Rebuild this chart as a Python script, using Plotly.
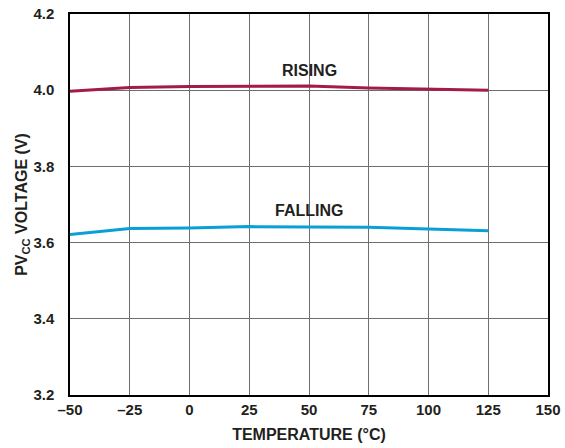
import plotly.graph_objects as go

# Undervoltage lockout thresholds vs. temperature
temperature_c = [-50, -25, 0, 25, 50, 75, 100, 125]
rising_v = [3.997, 4.007, 4.010, 4.010, 4.011, 4.006, 4.003, 4.000]
falling_v = [3.621, 3.637, 3.638, 3.642, 3.641, 3.640, 3.636, 3.631]

x_ticks = [-50, -25, 0, 25, 50, 75, 100, 125, 150]
x_tick_text = ["\u201350", "\u201325", "0", "25", "50", "75", "100", "125", "150"]
y_ticks = [3.2, 3.4, 3.6, 3.8, 4.0, 4.2]
y_tick_text = ["3.2", "3.4", "3.6", "3.8", "4.0", "4.2"]

FONT = "Liberation Sans, Arial, sans-serif"
INK = "#231F20"

fig = go.Figure()
fig.add_trace(go.Scatter(x=temperature_c, y=rising_v, mode="lines",
                         line=dict(color="#A31C45", width=3),
                         showlegend=False))
fig.add_trace(go.Scatter(x=temperature_c, y=falling_v, mode="lines",
                         line=dict(color="#0A9FD6", width=3),
                         showlegend=False))

fig.add_annotation(x=50, y=4.053, text="<b>RISING</b>", showarrow=False,
                   font=dict(family=FONT, size=16, color=INK))
fig.add_annotation(x=50, y=3.683, text="<b>FALLING</b>", showarrow=False,
                   font=dict(family=FONT, size=16, color=INK))

axis_common = dict(showgrid=True, gridcolor="#6E6E6E", gridwidth=1,
                   showline=True, linecolor="#000000", linewidth=1.5, mirror=True,
                   zeroline=False, automargin=False,
                   tickfont=dict(family=FONT, size=15, color=INK))

fig.update_xaxes(range=[-50, 150], tickvals=x_ticks, ticktext=[f"<b>{t}</b>" for t in x_tick_text],
                 ticks="",
                 title=dict(text="<b>TEMPERATURE (\u00b0C)</b>", standoff=12,
                            font=dict(family=FONT, size=16, color=INK)),
                 **axis_common)
# invisible outside ticks push the y labels away from the frame
fig.update_yaxes(range=[3.2, 4.2], tickvals=y_ticks, ticktext=[f"<b>{t}</b>" for t in y_tick_text],
                 ticks="outside", ticklen=11, tickcolor="rgba(0,0,0,0)",
                 title=dict(text="<b>PV<sub>CC</sub> VOLTAGE (V)</b>", standoff=2,
                            font=dict(family=FONT, size=16, color=INK)),
                 **axis_common)

fig.update_layout(width=565, height=448, margin=dict(l=70, r=17, t=14, b=53, autoexpand=False),
                  plot_bgcolor="white", paper_bgcolor="white")

fig.write_html("out.html")
